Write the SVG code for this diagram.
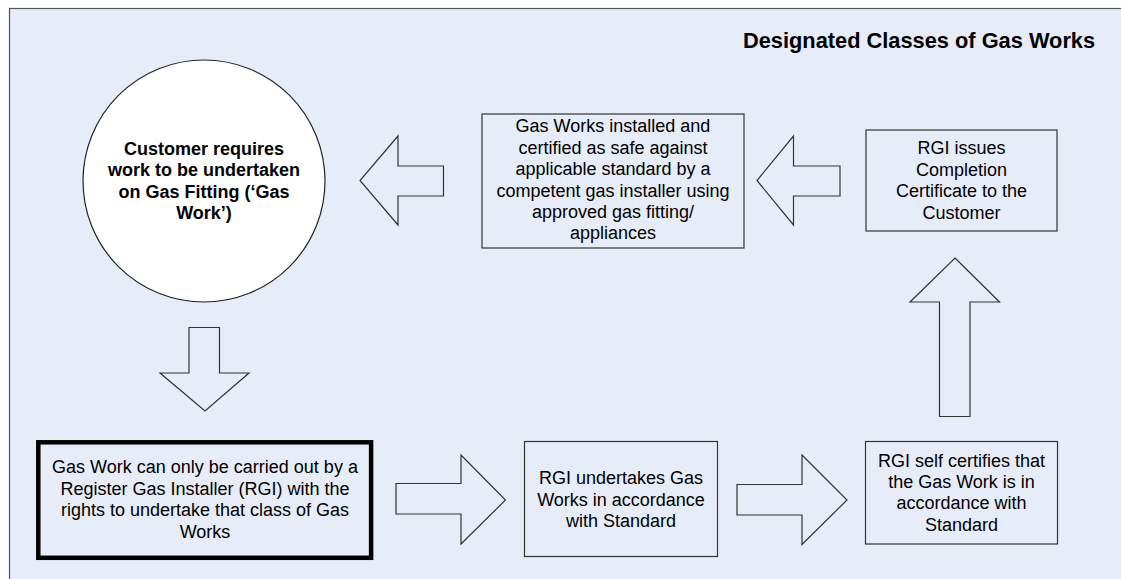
<svg xmlns="http://www.w3.org/2000/svg" width="1121" height="579" viewBox="0 0 1121 579">
<style>
.panel{fill:#E7EDF8;stroke:#555;stroke-width:1.2}
.box{fill:none;stroke:#333;stroke-width:1.2}
.thick{fill:none;stroke:#000;stroke-width:4.5}
.arrow{fill:none;stroke:#333;stroke-width:1.2;stroke-linejoin:miter}
.t{font-family:"Liberation Sans",Arial,sans-serif;font-size:18px;fill:#000;text-anchor:middle}
.b{font-weight:bold}
.title{font-family:"Liberation Sans",Arial,sans-serif;font-size:21.8px;font-weight:bold;fill:#000}
</style>
<rect width="1121" height="579" fill="#fff"/>
<rect class="panel" x="9.5" y="8.5" width="1125" height="585"/>
<text class="title" x="743" y="48">Designated Classes of Gas Works</text>

<g id="customer">
<circle cx="204" cy="181" r="121" fill="#fff" stroke="#222" stroke-width="1.2"/>
<text class="t b" x="204" y="154.5">Customer requires</text>
<text class="t b" x="204" y="176">work to be undertaken</text>
<text class="t b" x="204" y="197.5">on Gas Fitting (‘Gas</text>
<text class="t b" x="204" y="219">Work’)</text>
</g>

<g id="rgi-only">
<rect class="thick" x="38.3" y="442.3" width="332.8" height="115.5"/>
<text class="t" x="205" y="473">Gas Work can only be carried out by a</text>
<text class="t" x="205" y="494.5">Register Gas Installer (RGI) with the</text>
<text class="t" x="205" y="516">rights to undertake that class of Gas</text>
<text class="t" x="205" y="537.5">Works</text>
</g>

<g id="rgi-undertakes">
<rect class="box" x="524.5" y="441.5" width="193" height="115"/>
<text class="t" x="621" y="484">RGI undertakes Gas</text>
<text class="t" x="621" y="505.5">Works in accordance</text>
<text class="t" x="621" y="527">with Standard</text>
</g>

<g id="rgi-self-certifies">
<rect class="box" x="865.5" y="441.5" width="192" height="102.5"/>
<text class="t" x="961.5" y="467">RGI self certifies that</text>
<text class="t" x="961.5" y="488">the Gas Work is in</text>
<text class="t" x="961.5" y="509">accordance with</text>
<text class="t" x="961.5" y="530.5">Standard</text>
</g>

<g id="rgi-issues">
<rect class="box" x="866" y="130" width="191" height="101"/>
<text class="t" x="961.5" y="154">RGI issues</text>
<text class="t" x="961.5" y="175.5">Completion</text>
<text class="t" x="961.5" y="197">Certificate to the</text>
<text class="t" x="961.5" y="218.5">Customer</text>
</g>

<g id="gas-works-installed">
<rect class="box" x="482" y="114" width="262" height="134"/>
<text class="t" x="613" y="132.3">Gas Works installed and</text>
<text class="t" x="613" y="153.7">certified as safe against</text>
<text class="t" x="613" y="175.1">applicable standard by a</text>
<text class="t" x="613" y="196.5">competent gas installer using</text>
<text class="t" x="613" y="217.9">approved gas fitting/</text>
<text class="t" x="613" y="239.3">appliances</text>
</g>

<g id="connectors">
<polygon class="arrow" points="189,327.5 219.5,327.5 219.5,373 249,373 205,411 160,373 189,373"/>
<polygon class="arrow" points="396,483.5 461,483.5 461,455 505.5,500 461,544 461,514 396,514"/>
<polygon class="arrow" points="737,484.5 802,484.5 802,455 847,500 802,544.5 802,515 737,515"/>
<polygon class="arrow" points="955,258 999.5,302 970,302 970,416.5 939.5,416.5 939.5,302 910,302"/>
<polygon class="arrow" points="840,166 793.5,166 793.5,136 757,180.5 793.5,225 793.5,196 840,196"/>
<polygon class="arrow" points="443.5,166 398,166 398,136 360,180.5 398,225 398,196 443.5,196"/>
</g>
</svg>
